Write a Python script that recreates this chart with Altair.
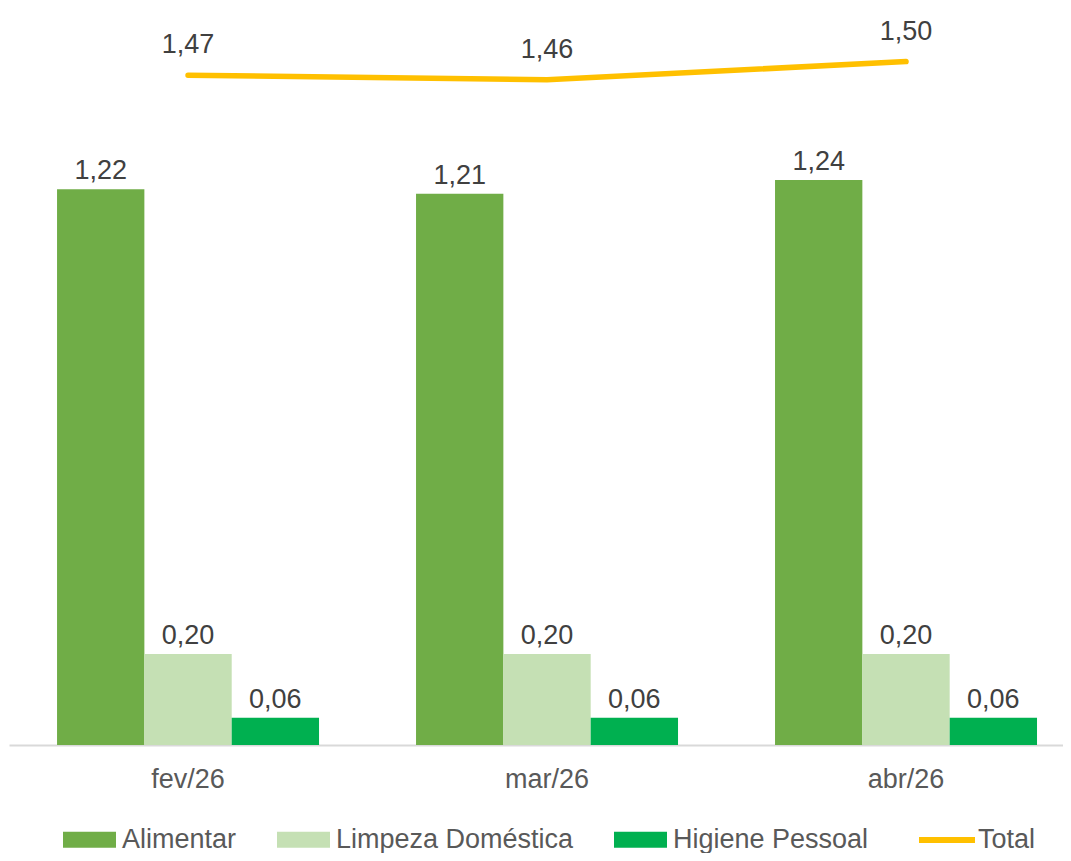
import altair as alt
import pandas as pd

meses = ["fev/26", "mar/26", "abr/26"]
series = ["Alimentar", "Limpeza Doméstica", "Higiene Pessoal"]
alimentar = [1.22, 1.21, 1.24]
limpeza = [0.20, 0.20, 0.20]
higiene = [0.06, 0.06, 0.06]
total = [1.47, 1.46, 1.50]
cores = ["#70AD47", "#C5E0B4", "#00B050"]
cor_total = "#FFC000"


def fmt(v):
    return f"{v:.2f}".replace(".", ",")


rows = []
for s, vals in zip(series, [alimentar, limpeza, higiene]):
    for m, v in zip(meses, vals):
        rows.append({"mes": m, "serie": s, "valor": v, "rotulo": fmt(v)})
bars_df = pd.DataFrame(rows)
line_df = pd.DataFrame({
    "mes": meses,
    "linha": ["Total"] * len(meses),
    "valor": total,
    "rotulo": [fmt(v) for v in total],
})

FONT = "Liberation Sans"
FS = 27

x_scale = alt.Scale(domain=meses, paddingInner=0.2702, paddingOuter=0.1031, align=0.649)
y_scale = alt.Scale(domain=[0, 1.6], nice=False, zero=True)
xoff_scale = alt.Scale(domain=series, paddingInner=0, paddingOuter=0)

x_enc = alt.X(
    "mes:N",
    scale=x_scale,
    axis=alt.Axis(
        title=None, ticks=False, labelPadding=21, labelFontSize=FS,
        labelColor="#595959", labelFont=FONT, domainColor="#D9D9D9",
        domainWidth=2, grid=False, labelAngle=0,
    ),
)
y_enc = alt.Y("valor:Q", scale=y_scale, axis=None)
xoff_enc = alt.XOffset("serie:N", scale=xoff_scale, sort=series)

bars = alt.Chart(bars_df).mark_bar().encode(
    x=x_enc,
    xOffset=xoff_enc,
    y=y_enc,
    fill=alt.Fill(
        "serie:N",
        scale=alt.Scale(domain=series, range=cores),
        legend=alt.Legend(
            title=None, orient="none", legendX=54, legendY=797,
            direction="horizontal", columns=3, padding=0,
            symbolType="M-1,-0.302H1V0.302H-1Z", symbolSize=2809,
            symbolStrokeWidth=0, symbolOpacity=1,
            labelFontSize=FS, labelFont=FONT, labelColor="#595959",
            labelOffset=6, columnPadding=40, labelLimit=0,
        ),
    ),
)

bar_text = alt.Chart(bars_df).mark_text(
    fontSize=FS, font=FONT, color="#404040", baseline="alphabetic", dy=-10
).encode(x=x_enc, xOffset=xoff_enc, y=y_enc, text="rotulo:N")

line = alt.Chart(line_df).mark_line(strokeWidth=5.5, strokeCap="round").encode(
    x=x_enc,
    y=y_enc,
    stroke=alt.Stroke(
        "linha:N",
        scale=alt.Scale(domain=["Total"], range=[cor_total]),
        legend=alt.Legend(
            title=None, orient="none", legendX=907, legendY=793, padding=0,
            symbolType="stroke", symbolSize=3136, symbolStrokeWidth=6,
            labelFontSize=FS, labelFont=FONT, labelColor="#595959",
            labelOffset=0, labelLimit=0,
        ),
    ),
)

line_text = alt.Chart(line_df).mark_text(
    fontSize=FS, font=FONT, color="#404040", baseline="alphabetic", dy=-22
).encode(x=x_enc, y=y_enc, text="rotulo:N")

chart = alt.layer(bars, bar_text, line, line_text).properties(
    width=1054,
    height=729,
    padding={"left": 1, "top": 8, "right": 0, "bottom": 108},
    autosize=alt.AutoSizeParams(type="none"),
).configure_view(stroke=None)

chart.save("out.html", embed_options={"renderer": "svg", "actions": False})
